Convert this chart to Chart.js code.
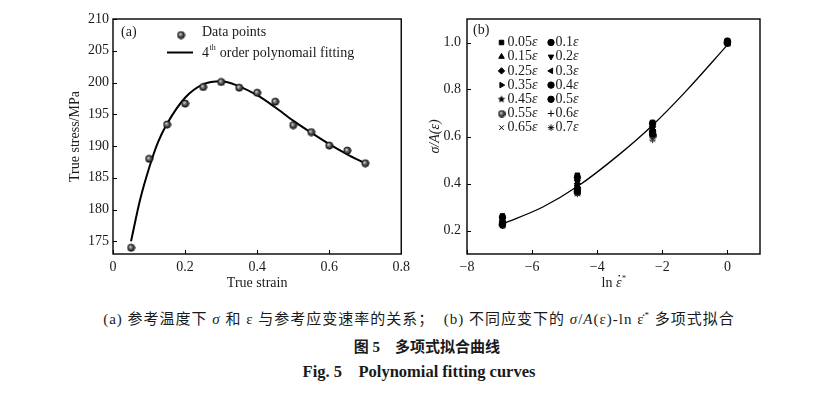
<!DOCTYPE html>
<html>
<head>
<meta charset="utf-8">
<script src="https://cdn.jsdelivr.net/npm/chart.js@4.4.1/dist/chart.umd.min.js"></script>
<style>
body { margin: 0; background: #fff; }
#wrap { position: relative; width: 830px; height: 396px; overflow: hidden; background: #fff; }
#fitA { position: absolute; left: 0; top: 0; }
#fitB { position: absolute; left: 415px; top: 0; }
.cap { position: absolute; left: 0; width: 830px; text-align: center; color: #1a1a1a; white-space: nowrap; }
#cap1 { top: 307px; left: 4px; font: 15px "Liberation Serif", "Noto Sans CJK SC", serif; letter-spacing: 1px; }
#cap2 { top: 335px; left: 12px; font: bold 15px "Liberation Serif", "Noto Sans CJK SC", serif; }
#cap3 { top: 362px; left: 4px; font: bold 16.5px "Liberation Serif", serif; }
sup { font-size: 9px; }
</style>
</head>
<body>
<div id="wrap">
  <canvas id="fitA" width="415" height="300"></canvas>
  <canvas id="fitB" width="415" height="300"></canvas>
  <div class="cap" id="cap1">(a) 参考温度下 <i>σ</i> 和 ε 与参考应变速率的关系；&nbsp; (b) 不同应变下的 <i>σ</i>/<i>A</i>(ε)-ln ε̇<sup>*</sup> 多项式拟合</div>
  <div class="cap" id="cap2">图 5&nbsp;&nbsp;&nbsp; 多项式拟合曲线</div>
  <div class="cap" id="cap3">Fig. 5&nbsp;&nbsp;&nbsp; Polynomial fitting curves</div>
</div>
<script>
/****************** DATA **********************/

// (a) true stress / true strain
var strainA = [0.05, 0.1, 0.15, 0.2, 0.25, 0.3, 0.35, 0.4, 0.45, 0.5, 0.55, 0.6, 0.65, 0.7];
var stressA = [174.0, 188.0, 193.4, 196.7, 199.3, 200.1, 199.2, 198.4, 197.0, 193.3, 192.2, 190.1, 189.3, 187.3];
var fitStrainA = [0.05, 0.075, 0.1, 0.125, 0.15, 0.2, 0.25, 0.3, 0.35, 0.4, 0.45, 0.5, 0.55, 0.6, 0.65, 0.7];
var fitStressA = [175.0, 181.5, 186.5, 190.6, 193.5, 197.6, 199.7, 200.2, 199.4, 198.0, 196.1, 194.0, 192.1, 190.3, 188.7, 187.25];
var xTicksA = [0, 0.2, 0.4, 0.6, 0.8];
var yTicksA = [175, 180, 185, 190, 195, 200, 205, 210];

// (b) sigma/A(eps) against ln strain rate, one array per strain level
var lnRateB = [-6.91, -4.61, -2.3, 0];
var strainLevelsB = ['0.05', '0.1', '0.15', '0.2', '0.25', '0.3', '0.35', '0.4', '0.45', '0.5', '0.55', '0.6', '0.65', '0.7'];
var r005 = [0.262, 0.435, 0.660, 1.008];
var r010 = [0.256, 0.426, 0.656, 1.006];
var r015 = [0.250, 0.417, 0.651, 1.005];
var r020 = [0.245, 0.408, 0.646, 1.004];
var r025 = [0.240, 0.399, 0.641, 1.003];
var r030 = [0.236, 0.391, 0.636, 1.002];
var r035 = [0.233, 0.384, 0.629, 1.001];
var r040 = [0.230, 0.378, 0.622, 1.000];
var r045 = [0.228, 0.372, 0.616, 0.999];
var r050 = [0.226, 0.367, 0.611, 0.998];
var r055 = [0.224, 0.362, 0.605, 0.997];
var r060 = [0.222, 0.359, 0.598, 0.996];
var r065 = [0.221, 0.356, 0.590, 0.995];
var r070 = [0.220, 0.355, 0.585, 0.995];
var ratioB = [r005, r010, r015, r020, r025, r030, r035, r040, r045, r050, r055, r060, r065, r070];
var fitLnRateB = [-6.91, -5.67, -4.6, -3.31, -2.3, -1.28, 0];
var fitRatioB = [0.228, 0.300, 0.388, 0.525, 0.648, 0.792, 0.99];
var xTicksB = [-8, -6, -4, -2, 0];
var yTicksB = [0.2, 0.4, 0.6, 0.8, 1.0];

/****************** HELPERS **********************/

var SERIF = '"Liberation Serif", "Times New Roman", serif';
var INK = '#1a1a1a';

function sphereImage(r)
{
    var c = document.createElement('canvas');
    c.width = c.height = r * 2 + 2;
    var g = c.getContext('2d');
    var m = r + 1;
    var grd = g.createRadialGradient(m - r * 0.3, m - r * 0.3, 0.3, m, m, r);
    grd.addColorStop(0, '#d8d8d8');
    grd.addColorStop(0.45, '#666');
    grd.addColorStop(1, '#151515');
    g.fillStyle = grd;
    g.beginPath();
    g.arc(m, m, r, 0, Math.PI * 2);
    g.fill();
    g.strokeStyle = '#111';
    g.lineWidth = 0.8;
    g.stroke();
    return c;
}

function starImage(r)
{
    var c = document.createElement('canvas');
    c.width = c.height = r * 2 + 2;
    var g = c.getContext('2d');
    var m = r + 1;
    g.fillStyle = '#000';
    g.beginPath();
    for (var i = 0; i < 10; i++) {
        var rad = i % 2 ? r * 0.45 : r;
        var a = -Math.PI / 2 + i * Math.PI / 5;
        g.lineTo(m + rad * Math.cos(a), m + rad * Math.sin(a));
    }
    g.closePath();
    g.fill();
    return c;
}

function fixTicks(values)
{
    return function (scale) {
        scale.ticks = values.map(function (v) { return { value: v }; });
    };
}

function minus(v, digits)
{
    var s = Math.abs(v).toFixed(digits);
    return v < 0 ? '\u2212' + s : s;
}

// box round the plot and short ticks pointing inwards
var framePlugin = {
    id: 'frame',
    afterDraw: function (chart) {
        var ctx = chart.ctx, a = chart.chartArea;
        var sx = chart.scales.x, sy = chart.scales.y;
        ctx.save();
        ctx.strokeStyle = '#000';
        ctx.lineWidth = 1.4;
        ctx.strokeRect(a.left, a.top, a.right - a.left, a.bottom - a.top);
        ctx.lineWidth = 1;
        ctx.beginPath();
        sx.ticks.forEach(function (t) {
            var px = Math.round(sx.getPixelForValue(t.value)) + 0.5;
            ctx.moveTo(px, a.bottom);
            ctx.lineTo(px, a.bottom - 4);
        });
        sy.ticks.forEach(function (t) {
            var py = Math.round(sy.getPixelForValue(t.value)) + 0.5;
            ctx.moveTo(a.left, py);
            ctx.lineTo(a.left + 4, py);
        });
        ctx.stroke();
        ctx.restore();
    }
};

function drawMarker(ctx, style, rotation, radius, x, y)
{
    var H = Chart.helpers;
    if (H && H.drawPoint) {
        H.drawPoint(ctx, { pointStyle: style, rotation: rotation, radius: radius, borderWidth: 1 }, x, y);
    } else {
        ctx.beginPath();
        ctx.arc(x, y, radius, 0, Math.PI * 2);
        ctx.fill();
    }
}

/****************** CHART (a) **********************/

var sphereA = sphereImage(3.6);

var legendA = {
    id: 'legendA',
    afterDraw: function (chart) {
        var ctx = chart.ctx;
        ctx.save();
        ctx.fillStyle = INK;
        ctx.textBaseline = 'middle';
        ctx.font = '14px ' + SERIF;
        ctx.fillText('(a)', 121, 32);
        ctx.drawImage(sphereA, 181 - sphereA.width / 2, 35 - sphereA.height / 2);
        ctx.fillText('Data points', 202, 32);
        ctx.strokeStyle = '#000';
        ctx.lineWidth = 2;
        ctx.beginPath();
        ctx.moveTo(167, 52.5);
        ctx.lineTo(193, 52.5);
        ctx.stroke();
        ctx.fillText('4', 202, 53);
        var w = ctx.measureText('4').width;
        ctx.font = '8px ' + SERIF;
        ctx.fillText('th', 202 + w + 0.5, 48);
        var w2 = ctx.measureText('th').width;
        ctx.font = '14px ' + SERIF;
        ctx.fillText(' order polynomail fitting', 202 + w + w2 + 1, 53);
        ctx.restore();
    }
};

new Chart(document.getElementById('fitA'), {
    type: 'scatter',
    data: {
        datasets: [{
            label: 'Data points',
            data: strainA.map(function (x, i) { return { x: x, y: stressA[i] }; }),
            pointStyle: sphereA,
            pointRadius: 3.6
        }, {
            label: '4th order polynomail fitting',
            data: fitStrainA.map(function (x, i) { return { x: x, y: fitStressA[i] }; }),
            showLine: true,
            cubicInterpolationMode: 'monotone',
            borderColor: '#000',
            borderWidth: 2,
            pointRadius: 0
        }]
    },
    options: {
        responsive: false,
        animation: false,
        layout: { padding: { left: 0, right: 10, top: 19, bottom: 0 } },
        plugins: { legend: { display: false }, tooltip: { enabled: false } },
        scales: {
            x: {
                type: 'linear', min: 0, max: 0.8,
                afterBuildTicks: fixTicks(xTicksA),
                afterFit: function (s) { s.height = 46; },
                grid: { display: false, drawTicks: false },
                border: { display: false },
                ticks: {
                    color: INK, padding: 5, maxRotation: 0,
                    font: { family: SERIF, size: 14 },
                    callback: function (v) { return v === 0 ? '0' : v.toFixed(1); }
                },
                title: {
                    display: true, text: 'True strain', color: INK,
                    font: { family: SERIF, size: 14 }, padding: { top: 0, bottom: 8 }
                }
            },
            y: {
                type: 'linear', min: 173, max: 210,
                afterBuildTicks: fixTicks(yTicksA),
                afterFit: function (s) { s.width = 113; },
                grid: { display: false, drawTicks: false },
                border: { display: false },
                ticks: {
                    color: INK, padding: 4,
                    font: { family: SERIF, size: 14 },
                    callback: function (v) { return String(v); }
                },
                title: {
                    display: true, text: 'True stress/MPa', color: INK,
                    font: { family: SERIF, size: 14 }, padding: { top: 67, bottom: 0 }
                }
            }
        }
    },
    plugins: [framePlugin, legendA]
});

/****************** CHART (b) **********************/

var starB = starImage(4);
var sphereB = sphereImage(3.3);
var markerStyleB = ['rect', 'circle', 'triangle', 'triangle', 'rectRot', 'triangle', 'triangle',
                    'circle', starB, 'circle', sphereB, 'cross', 'crossRot', 'star'];
var markerRotationB = [0, 0, 0, 180, 0, -90, 90, 0, 0, 0, 0, 0, 0, 0];

var legendB = {
    id: 'legendB',
    afterDraw: function (chart) {
        var ctx = chart.ctx;
        ctx.save();
        ctx.fillStyle = INK;
        ctx.strokeStyle = '#000';
        ctx.textBaseline = 'middle';
        ctx.font = '14px ' + SERIF;
        ctx.fillText('(b)', 58, 30);
        strainLevelsB.forEach(function (lvl, i) {
            var col = i % 2, row = Math.floor(i / 2);
            var mx = col ? 136 : 86.5;
            var tx = col ? 140.5 : 92.5;
            var y = 42.5 + row * 14.2;
            ctx.fillStyle = '#000';
            ctx.lineWidth = 1;
            drawMarker(ctx, markerStyleB[i], markerRotationB[i], 3.2, mx, y);
            ctx.fillStyle = INK;
            ctx.font = '14px ' + SERIF;
            ctx.fillText(lvl, tx, y);
            var w = ctx.measureText(lvl).width;
            ctx.font = 'italic 14px ' + SERIF;
            ctx.fillText('\u03b5', tx + w, y);
        });
        // x axis title: ln ε̇*
        var cx = (chart.chartArea.left + chart.chartArea.right) / 2;
        ctx.font = '14px ' + SERIF;
        var w1 = ctx.measureText('ln ').width;
        ctx.font = 'italic 14px ' + SERIF;
        var w2 = ctx.measureText('\u03b5').width;
        var x0 = cx - (w1 + w2 + 4) / 2;
        ctx.font = '14px ' + SERIF;
        ctx.fillText('ln ', x0, 283);
        ctx.font = 'italic 14px ' + SERIF;
        ctx.fillText('\u03b5', x0 + w1, 283);
        ctx.fillRect(x0 + w1 + w2 / 2 - 0.2, 275, 1.4, 1.4);
        ctx.font = '8px ' + SERIF;
        ctx.fillText('*', x0 + w1 + w2 + 0.5, 279);
        ctx.restore();
    }
};

var datasetsB = strainLevelsB.map(function (lvl, k) {
    return {
        label: lvl + '\u03b5',
        data: lnRateB.map(function (x, i) { return { x: x, y: ratioB[k][i] }; }),
        pointStyle: markerStyleB[k],
        rotation: markerRotationB[k],
        pointRadius: 3.2,
        backgroundColor: '#000',
        borderColor: k >= 11 ? '#333' : '#000',
        borderWidth: 1
    };
});
datasetsB.push({
    label: 'fit',
    data: fitLnRateB.map(function (x, i) { return { x: x, y: fitRatioB[i] }; }),
    showLine: true,
    cubicInterpolationMode: 'monotone',
    borderColor: '#000',
    borderWidth: 1.3,
    pointRadius: 0
});

new Chart(document.getElementById('fitB'), {
    type: 'scatter',
    data: { datasets: datasetsB },
    options: {
        responsive: false,
        animation: false,
        layout: { padding: { left: 0, right: 70, top: 19, bottom: 0 } },
        plugins: { legend: { display: false }, tooltip: { enabled: false } },
        scales: {
            x: {
                type: 'linear', min: -8, max: 1,
                afterBuildTicks: fixTicks(xTicksB),
                afterFit: function (s) { s.height = 46; },
                grid: { display: false, drawTicks: false },
                border: { display: false },
                ticks: {
                    color: INK, padding: 5, maxRotation: 0,
                    font: { family: SERIF, size: 14 },
                    callback: function (v) { return minus(v, 0); }
                },
                title: { display: false }
            },
            y: {
                type: 'linear', min: 0.1, max: 1.1,
                afterBuildTicks: fixTicks(yTicksB),
                afterFit: function (s) { s.width = 52; },
                grid: { display: false, drawTicks: false },
                border: { display: false },
                ticks: {
                    color: INK, padding: 6,
                    font: { family: SERIF, size: 14 },
                    callback: function (v) { return v.toFixed(1); }
                },
                title: {
                    display: true, text: '\u03c3/A(\u03b5)', color: INK,
                    font: { family: SERIF, size: 14, style: 'italic' }, padding: { top: 12, bottom: 0 }
                }
            }
        }
    },
    plugins: [framePlugin, legendB]
});
</script>
</body>
</html>
